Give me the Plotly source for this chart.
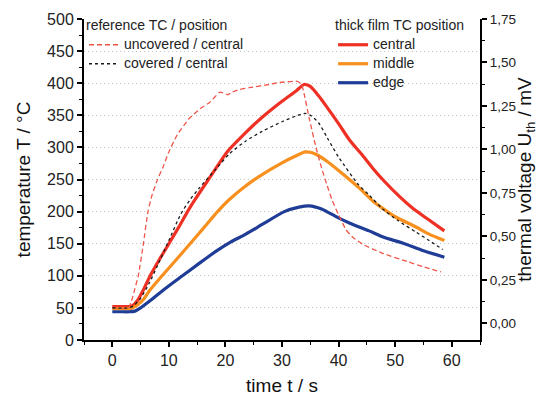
import plotly.graph_objects as go

# ---- data (time in s, temperature in °C) ----
t_central = [0, 1.5, 3, 3.5, 4.5, 5.5, 6.7, 8.3, 10, 11.7, 13.3, 14.5, 17, 20.4, 23, 26.5, 30, 32.5, 33.9, 35,
             36.5, 38, 40, 41.9, 44, 46, 48, 50.7, 53, 55.5, 58.7]
T_central = [52, 52, 52, 53, 62, 78, 100, 125, 150, 175, 200, 217, 250, 294, 318, 347, 372, 388, 398, 395,
             380, 362, 337, 312, 290, 268, 248, 224, 206, 190, 170]

t_middle = [0, 1.5, 3, 3.5, 4.5, 5.5, 6.5, 8.8, 11.3, 13.75, 16.2, 18.6, 20.6, 23, 26, 30, 32.5, 34.1, 35.2,
            36.5, 38, 40, 41.9, 44, 46, 47.8, 50, 53.7, 56, 58.7]
T_middle = [49, 49, 49, 50, 55, 63, 76, 100, 125, 150, 175, 200, 218, 236, 255, 276, 287, 293, 292,
            287, 278, 264, 250, 234, 217, 205, 192, 176, 165, 155]

t_edge = [0, 1.5, 3, 4, 5, 6.5, 9.5, 12.4, 15.3, 18.3, 20.6, 23.6, 26.5, 30.4, 33, 34.8, 37, 39.8, 42,
          45.4, 48, 51.3, 55, 58.7]
T_edge = [44, 44, 44, 45, 50, 60, 81, 100, 119, 138, 151, 165, 180, 200, 207, 209, 204, 191, 182,
          170, 160, 151, 139, 129]

t_uncov = [0, 2.8, 3.3, 4, 4.6, 5.5, 6.3, 7, 8, 9, 10, 11.5, 13.6, 15.5, 17.2, 19, 19.6, 20.4, 21.2, 22.4,
           24.2, 27.7, 29.5, 32.7, 33.4, 33.8, 34.8, 36, 37, 38, 38.9, 40, 41.3, 42.5, 44.5, 47.8, 52.2,
           55, 58.1]
T_uncov = [50, 50, 58, 80, 100, 150, 200, 225, 250, 270, 293, 320, 345, 360, 370, 386, 385, 382, 386, 390,
           393, 398, 401, 403, 399, 388, 346, 300, 268, 240, 217, 195, 172, 160, 148, 135, 122,
           114, 106]

t_cov = [0, 3, 3.7, 5, 6.5, 8, 10, 12.1, 13.7, 15.4, 18.3, 20.7, 23.6, 26.5, 30, 32.5, 34.2, 35.2, 36.5,
         38, 40, 43.5, 45.5, 47.8, 50.5, 53.7, 56, 58.4]
T_cov = [50, 50, 53, 65, 88, 116, 155, 196, 218, 237, 266, 290, 310, 325, 340, 349, 353, 349, 338,
         315, 285, 242, 225, 204, 186, 168, 155, 141]

names_ref = ["uncovered / central", "covered / central"]
names_film = ["central", "middle", "edge"]

x_ticks = [0, 10, 20, 30, 40, 50, 60]
y_ticks = [0, 50, 100, 150, 200, 250, 300, 350, 400, 450, 500]
grid_vals = [50, 100, 150, 200, 250, 300, 350, 400, 450]
u_ticks = [0, 0.25, 0.5, 0.75, 1.0, 1.25, 1.5, 1.75]

RED = "#ee3124"
ORANGE = "#f7901e"
BLUE = "#1f3c96"
RED_D = "#f0564a"
BLACK_D = "#1a1a1a"
FONT = "Liberation Sans, Arial, sans-serif"


def lname(s):
    return '<span style="font-size:14px">' + s + "</span>"


fig = go.Figure()
fig.add_trace(go.Scatter(x=t_central, y=T_central, mode="lines", name=lname(names_film[0]),
                         line=dict(color=RED, width=3.2, shape="spline", smoothing=0.6), legend="legend2"))
fig.add_trace(go.Scatter(x=t_middle, y=T_middle, mode="lines", name=lname(names_film[1]),
                         line=dict(color=ORANGE, width=3.2, shape="spline", smoothing=0.6), legend="legend2"))
fig.add_trace(go.Scatter(x=t_edge, y=T_edge, mode="lines", name=lname(names_film[2]),
                         line=dict(color=BLUE, width=3.2, shape="spline", smoothing=0.6), legend="legend2"))
fig.add_trace(go.Scatter(x=t_uncov, y=T_uncov, mode="lines", name=lname(names_ref[0]),
                         line=dict(color=RED_D, width=1.3, dash="5px,3px", shape="spline", smoothing=0.4),
                         legend="legend"))
fig.add_trace(go.Scatter(x=t_cov, y=T_cov, mode="lines", name=lname(names_ref[1]),
                         line=dict(color=BLACK_D, width=1.3, dash="3px,3px", shape="spline", smoothing=0.6),
                         legend="legend"))
# carriers for the secondary axes
fig.add_trace(go.Scatter(x=[], y=[], yaxis="y2", showlegend=False, hoverinfo="skip"))
fig.add_trace(go.Scatter(x=[], y=[], yaxis="y3", showlegend=False, hoverinfo="skip"))

fig.update_layout(
    width=538, height=396,
    margin=dict(l=84, r=58, t=17, b=56),
    paper_bgcolor="white", plot_bgcolor="white",
    separators=",.",
    font=dict(family=FONT, color="#222222"),
    showlegend=True,
    xaxis=dict(
        range=[-5, 65], tickvals=x_ticks, ticks="outside", ticklen=5, tickwidth=1.5,
        tickcolor="black", showline=True, linewidth=2, linecolor="black",
        showgrid=False, zeroline=False,
        minor=dict(dtick=5, tick0=0, ticks="outside", ticklen=3, tickwidth=1.2, tickcolor="black"),
        tickfont=dict(size=16, family=FONT, color="#222"),
        title=dict(text="time t / s", font=dict(size=19, family=FONT, color="#111"), standoff=14),
        automargin=False,
    ),
    yaxis=dict(
        range=[0, 500], tickvals=y_ticks, ticks="outside", ticklen=5, tickwidth=1.5,
        tickcolor="black", showline=True, linewidth=2, linecolor="black",
        showgrid=False, zeroline=False,
        minor=dict(dtick=25, tick0=0, ticks="outside", ticklen=3, tickwidth=1.2, tickcolor="black"),
        tickfont=dict(size=16, family=FONT, color="#222"),
        title=dict(text="temperature T / °C", font=dict(size=19, family=FONT, color="#111"), standoff=11),
        automargin=False,
    ),
    yaxis2=dict(
        overlaying="y", side="right", anchor="x",
        range=[-0.0953, 1.75], tickvals=u_ticks, tickformat=".2f", ticks="outside", ticklen=5,
        tickwidth=1.5, tickcolor="black", showline=True, linewidth=2, linecolor="black",
        showgrid=False, zeroline=False,
        minor=dict(dtick=0.125, tick0=0, ticks="outside", ticklen=3, tickwidth=1.2, tickcolor="black"),
        tickfont=dict(size=13.5, family=FONT, color="#222"),
        title=dict(text="thermal voltage U<sub>th</sub> / mV", font=dict(size=19, family=FONT, color="#111"),
                   standoff=12),
        automargin=False,
    ),
    yaxis3=dict(
        overlaying="y", anchor="x", range=[0, 500], tickvals=grid_vals, showticklabels=False,
        ticks="", showline=False, zeroline=False, showgrid=True, gridcolor="#c4c4c4",
        griddash="1px,3px", gridwidth=1,
    ),
    legend=dict(
        x=0.0, y=1.0217, xanchor="left", yanchor="top", bgcolor="rgba(0,0,0,0)",
        font=dict(size=12, family=FONT, color="#222"),
        title=dict(text="reference TC / position", font=dict(size=14, family=FONT, color="#222")),
        tracegroupgap=0, itemwidth=30,
    ),
    legend2=dict(
        x=0.629, y=1.0217, xanchor="left", yanchor="top", bgcolor="rgba(0,0,0,0)",
        font=dict(size=12, family=FONT, color="#222"),
        title=dict(text="thick film TC position", font=dict(size=14, family=FONT, color="#222")),
        tracegroupgap=0, itemwidth=30,
    ),
)

fig.write_html("out.html")
